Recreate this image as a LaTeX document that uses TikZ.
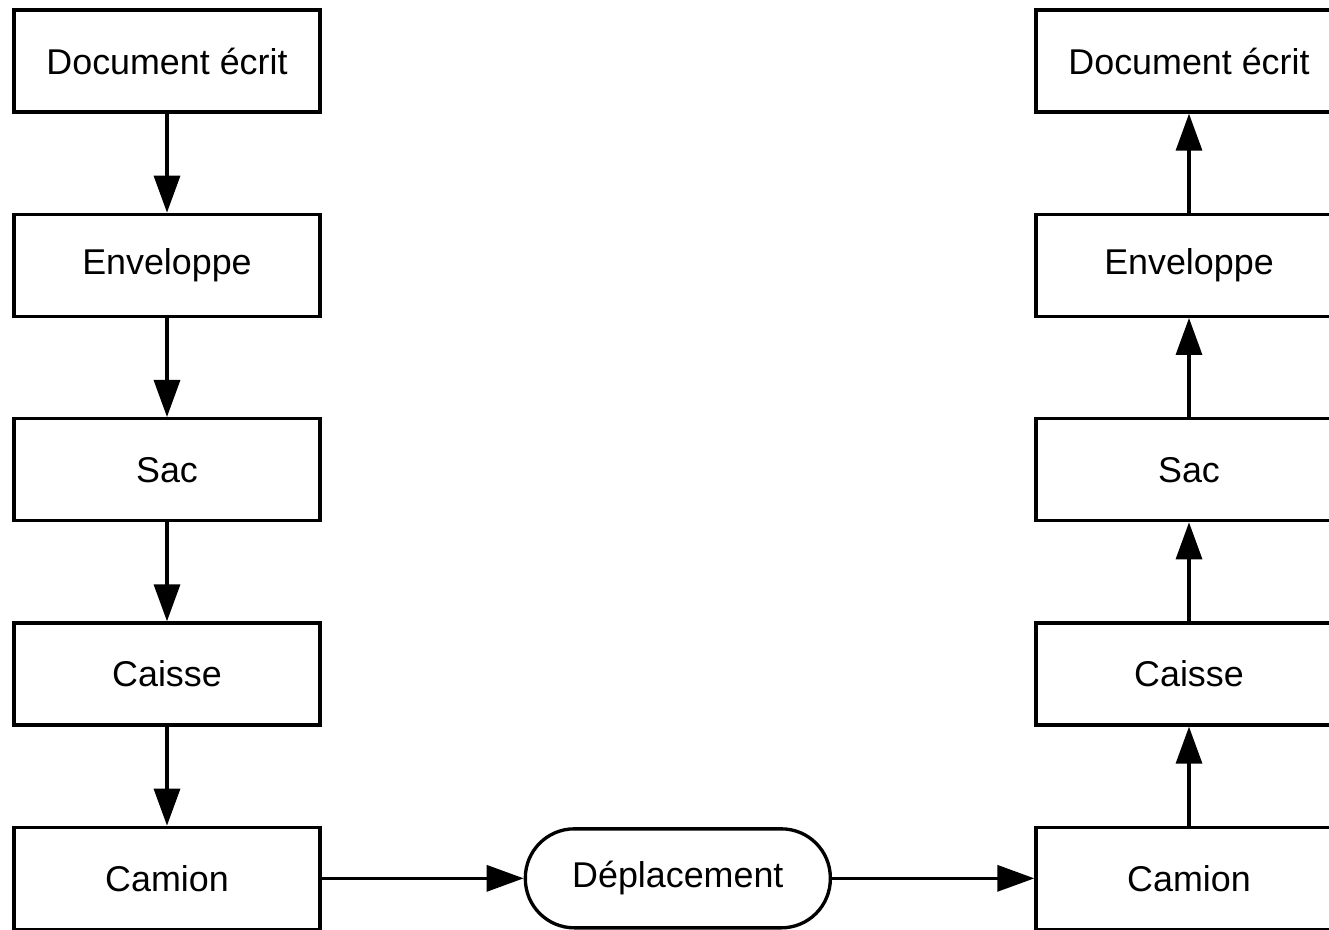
\documentclass[tikz,border=0pt]{standalone}
\usepackage{fontspec}
\setmainfont{Liberation Sans}
\usetikzlibrary{positioning,arrows.meta}

\begin{document}
\begin{tikzpicture}[
    box/.style={draw, line width=1.9pt, minimum width=6.12cm, minimum height=2.04cm,
                font=\fontsize{20.4}{24}\selectfont},
    move/.style={draw, line width=1.9pt, rounded corners=0.98cm, minimum width=6.1cm,
                 minimum height=1.98cm, font=\fontsize{20.4}{24}\selectfont},
    flow/.style={-{Triangle[length=0.74cm,width=0.52cm]}, line width=1.9pt},
    node distance=1.98cm
]

\useasboundingbox (0,0) rectangle (26.58,18.6);

% === LEFT COLUMN (packing) ===
\node[box] (doc) at (3.34,17.38) {Document écrit};
\node[box, below=of doc] (env) {Enveloppe};
\node[box, below=of env] (sac) {Sac};
\node[box, below=of sac] (caisse) {Caisse};
\node[box, below=of caisse] (camion) {Camion};

% === RIGHT COLUMN (unpacking) ===
\node[box] (docR) at (23.78,17.38) {Document écrit};
\node[box, below=of docR] (envR) {Enveloppe};
\node[box, below=of envR] (sacR) {Sac};
\node[box, below=of sacR] (caisseR) {Caisse};
\node[box, below=of caisseR] (camionR) {Camion};

% === TRANSPORT ===
\node[move, right=4.04cm of camion] (depl) {Déplacement};

% === ARROWS ===
\draw[flow] (doc) -- (env);
\draw[flow] (env) -- (sac);
\draw[flow] (sac) -- (caisse);
\draw[flow] (caisse) -- (camion);

\draw[flow] (camion) -- (depl);
\draw[flow] (depl) -- (camionR);

\draw[flow] (camionR) -- (caisseR);
\draw[flow] (caisseR) -- (sacR);
\draw[flow] (sacR) -- (envR);
\draw[flow] (envR) -- (docR);

\end{tikzpicture}
\end{document}
